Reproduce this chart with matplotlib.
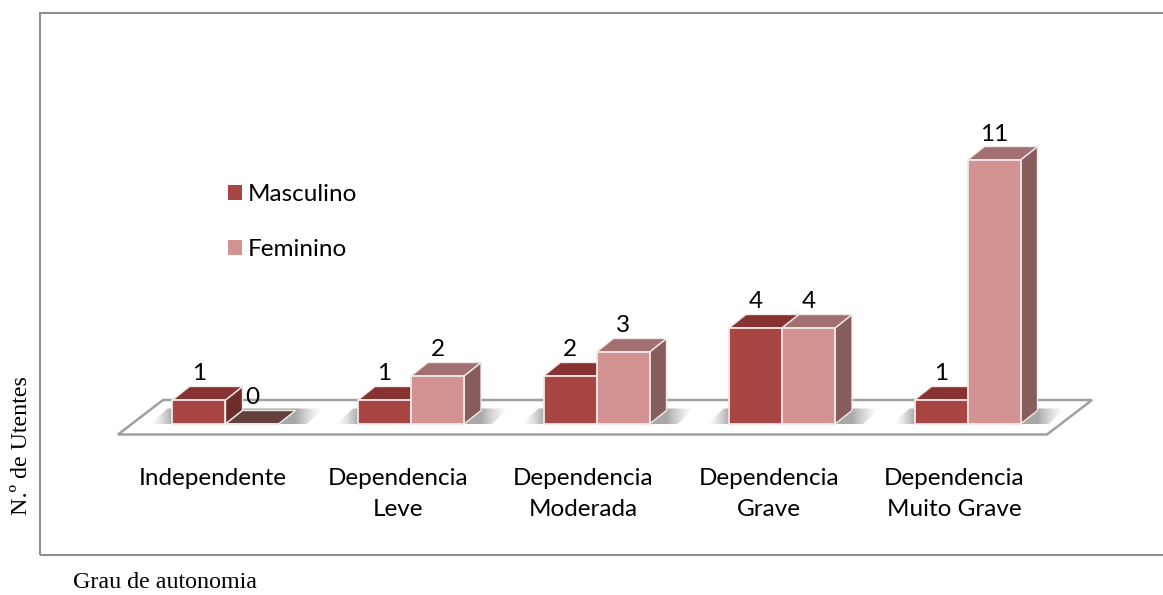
import numpy as np
import matplotlib
matplotlib.use("Agg")
import matplotlib.pyplot as plt
from matplotlib.patches import Polygon, Rectangle, Patch

categories = ['Independente', 'Dependencia\nLeve', 'Dependencia\nModerada',
              'Dependencia\nGrave', 'Dependencia\nMuito Grave']
masculino = [1, 1, 2, 4, 1]
feminino = [0, 2, 3, 4, 11]

W, H = 1163, 595
# scale of the picture: pixels for one category and for one utente
px_x = 185.5
px_y = 24.0
x0_px = 225.5
y0_px = 424.0

bar_w = 53 / px_x
dx = 17 / px_x
dy = 13.5 / px_y

masc_col = ('#a94542', '#863331', '#6e2c2a')
fem_col = ('#d29392', '#a27070', '#875c5c')
edge = '#f1e8e8'
fs = 17.5

plt.rcParams['font.family'] = ['Lato', 'DejaVu Sans']

fig = plt.figure(figsize=(W / 100, H / 100), dpi=100)
ax = fig.add_axes([0, 0, 1, 1])
xlim = (-x0_px / px_x, (W - x0_px) / px_x)
ylim = ((y0_px - H) / px_y, y0_px / px_y)
ax.axis('off')


def fig_xy(pts):
    return [(x / W, 1 - y / H) for x, y in pts]


# outer frame, runs off the right side
fig.add_artist(Rectangle((40 / W, 1 - 555 / H), 1140 / W, 542 / H, transform=fig.transFigure,
                         fc='none', ec='#8a8a8a', lw=1.4))

# floor
ax.add_patch(Polygon(fig_xy([(118, 434.5), (1047, 434.5), (1092, 400), (163, 400)]),
                     transform=fig.transFigure, fc='white', ec='#a0a0a0', lw=1.8, zorder=1))

# soft shadows under each group
for i in range(len(categories)):
    left = i - bar_w - 22 / px_x
    right = i + bar_w + dx + 28 / px_x
    xs = np.linspace(left, right, 200)
    alpha = np.interp(xs, [left, i - bar_w, i + bar_w + dx, right], [0, 0.6, 0.6, 0]) ** 1.4
    img = np.zeros((1, 200, 4))
    img[..., :3] = 0.3
    img[..., 3] = alpha
    im = ax.imshow(img, extent=(left, right, 0, dy * 1.15), aspect='auto', zorder=2,
                   interpolation='bilinear')
    clip = Polygon([(left, 0), (right - dx, 0), (right, dy * 1.15), (left + dx, dy * 1.15)],
                   transform=ax.transData, fc='none', ec='none')
    ax.add_patch(clip)
    im.set_clip_path(clip)


def draw_series(x_left, vals, cols, z, label):
    ax.bar(x_left, vals, width=bar_w, align='edge', color=cols[0], edgecolor=edge,
           linewidth=1.3, zorder=z + 1, label=label)
    for x, v in zip(x_left, vals):
        top = [(x, v), (x + bar_w, v), (x + bar_w + dx, v + dy), (x + dx, v + dy)]
        side = [(x + bar_w, 0), (x + bar_w + dx, dy), (x + bar_w + dx, v + dy), (x + bar_w, v)]
        if v == 0:
            ax.add_patch(Polygon(top, fc='#64403f', ec=edge, lw=1.0, zorder=z))
            continue
        ax.add_patch(Polygon(side, fc=cols[2], ec=edge, lw=1.0, zorder=z))
        ax.add_patch(Polygon(top, fc=cols[1], ec=edge, lw=1.0, zorder=z))
        ax.text(x + bar_w / 2, v + 26 / px_y, str(v), ha='center', va='center',
                fontsize=fs, color='black', zorder=10)


pos = np.arange(len(categories))
for i in pos:
    if feminino[i] == 0:
        ax.text(i + bar_w / 2, 26 / px_y, '0', ha='center', va='center', fontsize=fs, zorder=10)
draw_series(pos - bar_w, masculino, masc_col, 3, 'Masculino')
draw_series(pos, feminino, fem_col, 5, 'Feminino')

# category labels
for i, c in enumerate(categories):
    ax.text(i - 13 / px_x, (y0_px - 468) / px_y, c, ha='center', va='top',
            fontsize=fs, linespacing=1.6, color='black')

ax.set_xlim(xlim)
ax.set_ylim(ylim)

handles = [Patch(fc=masc_col[0], ec='none'), Patch(fc=fem_col[0], ec='none')]
ax.legend(handles, ['Masculino', 'Feminino'], frameon=False, fontsize=fs, loc='upper left',
          bbox_to_anchor=(221 / W, 1 - 177 / H), handlelength=0.56, handleheight=0.56,
          handletextpad=0.22, labelspacing=1.4, borderpad=0.3, borderaxespad=0)

# axis titles typed over the picture in a serif font
fig.text(22 / W, 1 - 446 / H, 'N.º de Utentes', rotation=90, ha='center', va='center',
         family='Liberation Serif', fontsize=17.3)
fig.text(73 / W, 1 - 582 / H, 'Grau de autonomia', ha='left', va='center',
         family='Liberation Serif', fontsize=17.3)

fig.savefig('out.png', dpi=100, facecolor='white')
